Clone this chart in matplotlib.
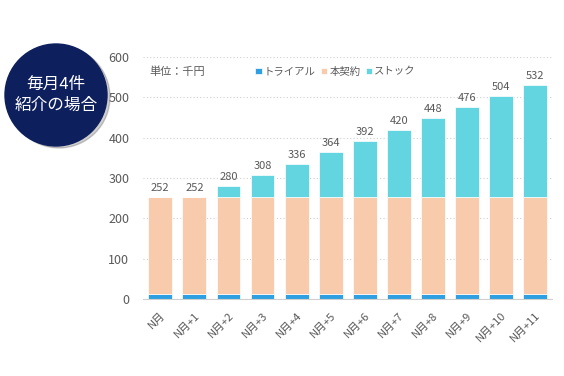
import matplotlib.pyplot as plt
from matplotlib.patches import Circle

plt.rcParams['font.family'] = ['Noto Sans CJK JP', 'DejaVu Sans']

# data (単位：千円)
months = ['N月', 'N月+1', 'N月+2', 'N月+3', 'N月+4', 'N月+5',
          'N月+6', 'N月+7', 'N月+8', 'N月+9', 'N月+10', 'N月+11']
trial = [12] * 12
contract = [240] * 12
stock = [0, 0, 28, 56, 84, 112, 140, 168, 196, 224, 252, 280]
totals = [252, 252, 280, 308, 336, 364, 392, 420, 448, 476, 504, 532]

c_trial = '#2e9fe0'
c_contract = '#f8cbad'
c_stock = '#63d5e0'
gray = '#595959'

fig = plt.figure(figsize=(5.64, 3.76), dpi=100)
ax = fig.add_axes([0.254, 0.205, 0.725, 0.643])

x = range(len(months))
ax.bar(x, trial, width=0.7, color=c_trial, edgecolor='white', linewidth=0.5, label='トライアル')
ax.bar(x, contract, width=0.7, bottom=trial, color=c_contract, edgecolor='white', linewidth=0.5, label='本契約')
base = [a + b for a, b in zip(trial, contract)]
ax.bar(x, stock, width=0.7, bottom=base, color=c_stock, edgecolor='white', linewidth=0.5, label='ストック')

for i, t in enumerate(totals):
    ax.text(i, t + 10, str(t), ha='center', va='bottom', fontsize=8, color=gray)

ax.set_xlim(-0.5, 11.5)
ax.set_ylim(0, 600)
ax.set_yticks(range(0, 601, 100))
ax.set_xticks(list(x))
ax.set_xticklabels(months, rotation=45, ha='right', rotation_mode='anchor', fontsize=8, color=gray)
ax.tick_params(axis='y', labelsize=9, colors=gray, length=0, pad=10)
ax.tick_params(axis='x', length=0, pad=8)
ax.yaxis.grid(True, linestyle=(0, (1, 2)), color='#d0d0d0', linewidth=0.8)
ax.set_axisbelow(True)
for s in ['top', 'right', 'left']:
    ax.spines[s].set_visible(False)
ax.spines['bottom'].set_color('#d0d0d0')

ax.text(0.015, 0.94, '単位：千円', transform=ax.transAxes, fontsize=8, color=gray, va='center')
ax.legend(loc='center', bbox_to_anchor=(0.47, 0.94), ncol=3, frameon=False, fontsize=7.5,
          handlelength=0.6, handleheight=0.6, handletextpad=0.2, columnspacing=0.5,
          labelcolor=gray)

# badge
shadow = Circle((59, 279), 51, transform=None, color='#00000030', zorder=1)
badge = Circle((56, 281), 51, transform=None, color='#0d1f5c', zorder=2)
fig.patches.extend([shadow, badge])
fig.text(56 / 564, 281 / 376, '毎月4件\n紹介の場合', ha='center', va='center', color='white',
         fontsize=12, linespacing=1.3, zorder=3)

fig.savefig('out.png', dpi=100)
